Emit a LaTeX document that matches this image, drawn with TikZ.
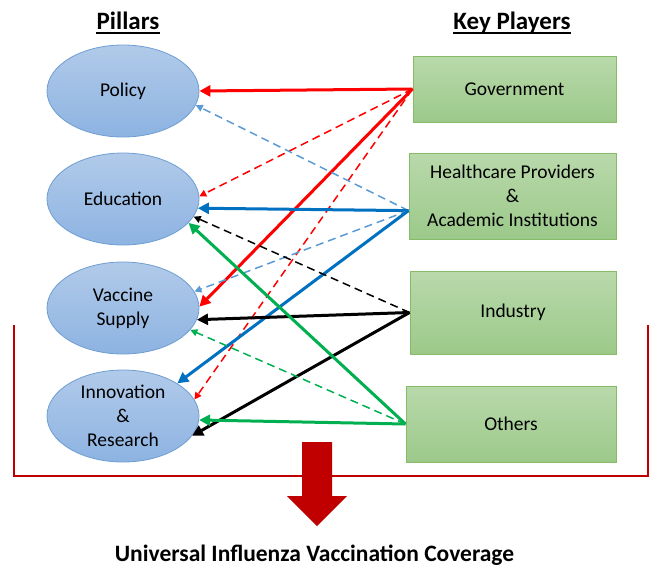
\documentclass[tikz,border=0pt]{standalone}
\usepackage{fontspec}
\setmainfont{Carlito}
\usetikzlibrary{arrows.meta,shapes.geometric}
\definecolor{pillartop}{HTML}{B1CAE9}
\definecolor{pillarbot}{HTML}{8DB3E2}
\definecolor{pillarline}{HTML}{6E9ED3}
\definecolor{playertop}{HTML}{B9D9AB}
\definecolor{playerbot}{HTML}{9CC98A}
\definecolor{playerline}{HTML}{86BC68}
\definecolor{govred}{HTML}{FF0000}
\definecolor{hcblue}{HTML}{0070C0}
\definecolor{hclight}{HTML}{5B9BD5}
\definecolor{othgreen}{HTML}{00B050}
\definecolor{darkred}{HTML}{C00000}
\begin{document}
\begin{tikzpicture}[x=1pt,y=-1pt,
  pillar/.style={ellipse,draw=pillarline,line width=0.8pt,top color=pillartop,bottom color=pillarbot,
    minimum width=152pt,minimum height=92pt,inner sep=0pt,align=center,font=\fontsize{19.5}{24}\selectfont},
  player/.style={rectangle,draw=playerline,line width=1pt,top color=playertop,bottom color=playerbot,
    inner sep=0pt,align=center,font=\fontsize{19.5}{24}\selectfont},
  strong/.style={line width=3pt,-{Triangle[length=11pt,width=11pt]}},
  weak/.style={line width=1.5pt,dash pattern=on 8pt off 5pt,-{Triangle[length=7pt,width=7pt]}},
  title/.style={font=\fontsize{25}{30}\selectfont\bfseries,inner sep=0pt,anchor=base}]
\useasboundingbox (0,0) rectangle (650,566);

% titles
\node[title] (pil) at (128,29.5) {Pillars};
\node[title] (kp) at (512,29.5) {Key Players};
\draw[line width=2pt] ([yshift=-3.5pt]pil.base west) -- ([yshift=-3.5pt]pil.base east);
\draw[line width=2pt] ([yshift=-3.5pt]kp.base west) -- ([yshift=-3.5pt]kp.base east);

% pillars
\node[pillar] (pol) at (123,91) {Policy};
\node[pillar] (edu) at (123,199) {Education};
\node[pillar] (vac) at (123,308) {Vaccine\\Supply};
\node[pillar] (inn) at (123,416) {Innovation\\\&\\Research};

% key players
\node[player,minimum width=203pt,minimum height=66pt] (gov) at (514.5,89) {Government};
\node[player,minimum width=207pt,minimum height=86pt] (hc) at (512.5,196) {Healthcare Providers\\\&\\Academic Institutions};
\node[player,minimum width=206pt,minimum height=83pt] (ind) at (513,312.5) {Industry};
\node[player,minimum width=210pt,minimum height=76pt] (oth) at (511,424) {Others};

% government
\draw[strong,govred] (gov.west) -- (pol.east);
\draw[weak,govred] (gov.west) -- (edu.2);
\draw[strong,govred] (gov.west) -- (vac.1.5);
\draw[weak,govred] (gov.west) -- (inn.13.5);

% healthcare providers
\draw[weak,hclight] (hc.188) -- (pol.-11);
\draw[strong,hcblue] (hc.188) -- (edu.-7.5);
\draw[weak,hclight] (hc.188) -- (vac.13);
\draw[strong,hcblue] (hc.188) -- (inn.31);

% industry
\draw[weak,black] (ind.west) -- (edu.-14);
\draw[strong,black] (ind.west) -- (vac.-9);
\draw[strong,black] (ind.west) -- (inn.-16);

% others
\draw[strong,othgreen] (oth.west) -- (edu.-20);
\draw[weak,othgreen] (oth.west) -- (vac.-18);
\draw[strong,othgreen] (oth.west) -- (inn.-3);

% bracket and outcome
\draw[darkred,line width=1.2pt] (14,325) -- (14,476) -- (648,476) -- (648,325);
\fill[darkred] (302,442) -- (332,442) -- (332,496) -- (347,496) -- (317,526) -- (287,496) -- (302,496) -- cycle;
\node[inner sep=0pt,anchor=base,font=\fontsize{23.5}{28}\selectfont\bfseries] (cov) at (314.5,561)
  {Universal Influenza Vaccination Coverage};
\end{tikzpicture}
\end{document}
